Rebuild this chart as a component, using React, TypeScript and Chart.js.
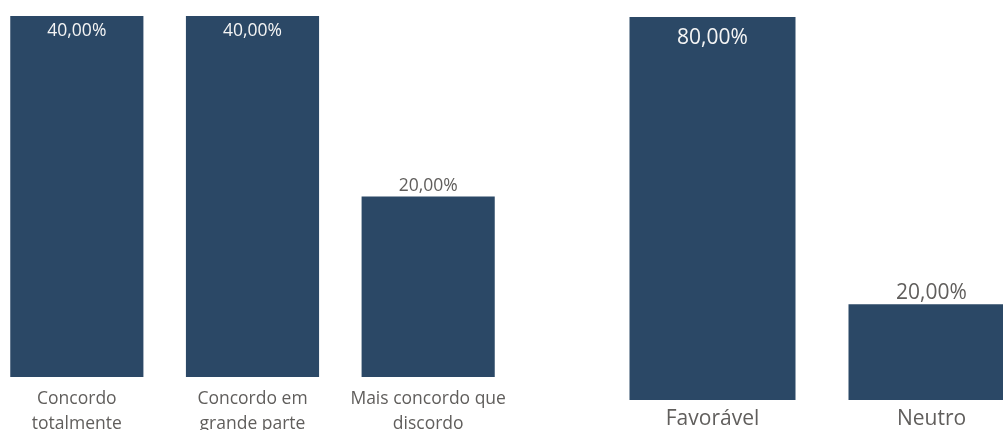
import React, { useEffect, useRef } from "react";
import { Chart, registerables } from "chart.js";

Chart.register(...registerables);

// ---- Data ----
const leftCategories: string[][] = [
  ["Concordo", "totalmente"],
  ["Concordo em", "grande parte"],
  ["Mais concordo que", "discordo"],
];
const leftValues: number[] = [40, 40, 20];

const rightCategories: string[] = ["Favorável", "Neutro"];
const rightValues: number[] = [80, 20];

// ---- Styles ----
const BAR_COLOR = "#2B4866";
const TEXT_COLOR = "#605E5C";
const FONT = "'Open Sans', sans-serif";

const fmt = (v: number) => v.toFixed(2).replace(".", ",") + "%";

function makeLabelPlugin(fontSize: number, insideGap: number, outsideGap: number) {
  return {
    id: "valueLabels",
    afterDatasetsDraw(chart: any) {
      const ctx = chart.ctx as CanvasRenderingContext2D;
      const meta = chart.getDatasetMeta(0);
      const data = chart.data.datasets[0].data as number[];
      ctx.save();
      ctx.font = `${fontSize}px ${FONT}`;
      ctx.textAlign = "center";
      ctx.textBaseline = "middle";
      meta.data.forEach((bar: any, i: number) => {
        const v = data[i];
        const { x, y } = bar.getProps(["x", "y"], true);
        const inside = y - outsideGap - fontSize / 2 < chart.chartArea.top;
        if (inside) {
          ctx.fillStyle = "#F5F5F5";
          ctx.fillText(fmt(v), x, y + insideGap);
        } else {
          ctx.fillStyle = TEXT_COLOR;
          ctx.fillText(fmt(v), x, y - outsideGap);
        }
      });
      ctx.restore();
    },
  };
}

type Props = {
  labels: any[];
  values: number[];
  left: number;
  width: number;
  height: number;
  padTop: number;
  axisHeight: number;
  tickFont: number;
  tickPad: number;
  valueFont: number;
  insideGap: number;
  outsideGap: number;
};

function BarChart(p: Props) {
  const ref = useRef<HTMLCanvasElement>(null);
  useEffect(() => {
    const chart = new Chart(ref.current!, {
      type: "bar",
      data: {
        labels: p.labels,
        datasets: [
          {
            data: p.values,
            backgroundColor: BAR_COLOR,
            borderWidth: 0,
            barPercentage: 0.758,
            categoryPercentage: 1,
          },
        ],
      },
      options: {
        animation: false,
        responsive: false,
        maintainAspectRatio: false,
        layout: { padding: { top: p.padTop, left: 0, right: 0, bottom: 0 } },
        plugins: { legend: { display: false }, tooltip: { enabled: false } },
        scales: {
          x: {
            grid: { display: false, drawTicks: false },
            border: { display: false },
            ticks: {
              color: TEXT_COLOR,
              font: { family: FONT, size: p.tickFont, lineHeight: 1.4 },
              padding: p.tickPad,
              maxRotation: 0,
              autoSkip: false,
            },
            afterFit: (s: any) => {
              s.height = p.axisHeight;
            },
          },
          y: { display: false, min: 0, max: Math.max(...p.values) },
        },
      },
      plugins: [makeLabelPlugin(p.valueFont, p.insideGap, p.outsideGap)],
    } as any);
    return () => chart.destroy();
  }, []);
  return (
    <canvas
      ref={ref}
      width={p.width}
      height={p.height}
      style={{ position: "absolute", left: p.left, top: 0, width: p.width, height: p.height }}
    />
  );
}

export default function App() {
  useEffect(() => {
    document.body.style.margin = "0";
  }, []);
  return (
    <div style={{ position: "relative", width: 1003, height: 430, overflow: "hidden", background: "#fff" }}>
      <BarChart
        labels={leftCategories}
        values={leftValues}
        left={-11}
        width={527}
        height={430}
        padTop={16}
        axisHeight={53}
        tickFont={17.5}
        tickPad={10}
        valueFont={17.5}
        insideGap={15}
        outsideGap={10}
      />
      <BarChart
        labels={rightCategories}
        values={rightValues}
        left={603}
        width={438}
        height={430}
        padTop={17}
        axisHeight={30}
        tickFont={21}
        tickPad={4}
        valueFont={21}
        insideGap={21}
        outsideGap={11}
      />
    </div>
  );
}
